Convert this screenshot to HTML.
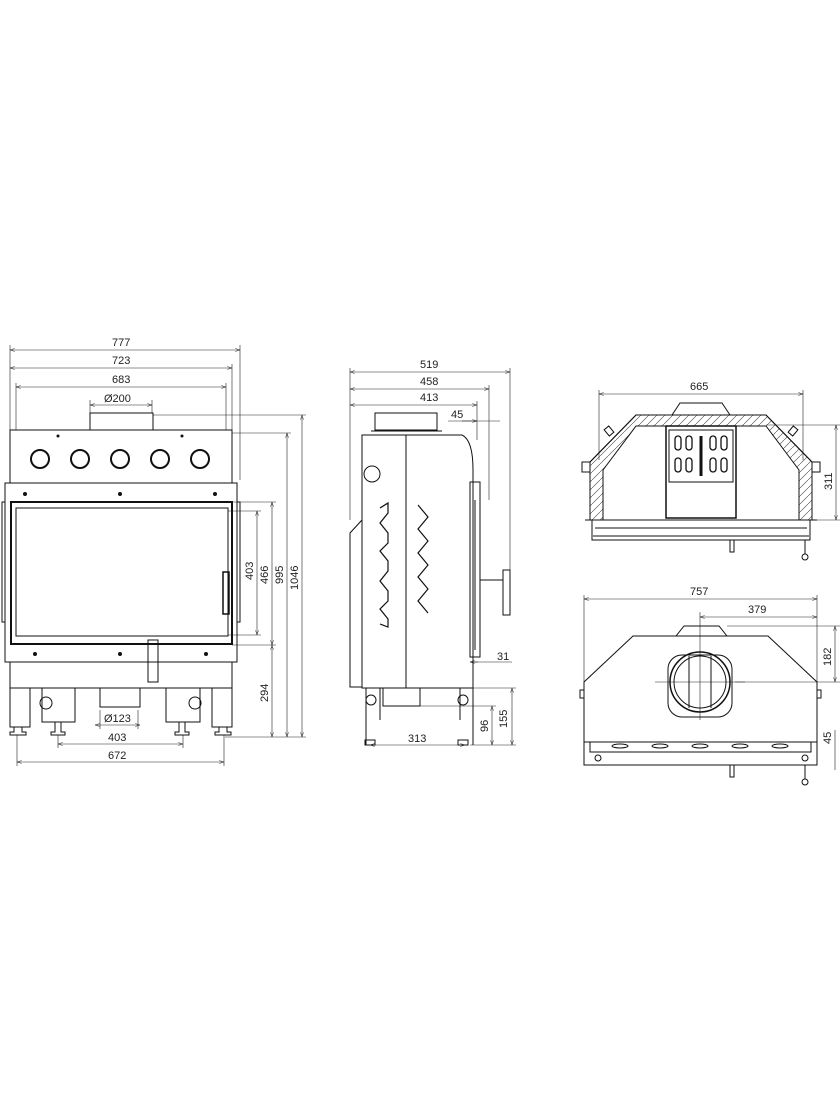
<!DOCTYPE html>
<html><head><meta charset="utf-8"><style>
html,body{margin:0;padding:0;background:#fff;}
svg{display:block;}
text{font-family:"Liberation Sans",sans-serif;font-size:11px;fill:#222;}
</style></head><body>
<svg width="840" height="1120" viewBox="0 0 840 1120" xmlns="http://www.w3.org/2000/svg">
<defs>
<marker id="a" viewBox="0 0 8 6" refX="8" refY="3" markerWidth="8" markerHeight="6" orient="auto-start-reverse"><path d="M0,0.5 L8,3 L0,5.5" fill="none" stroke="#222" stroke-width="0.8"/></marker>
<pattern id="h" width="8" height="8" patternUnits="userSpaceOnUse"><path d="M0,8 L8,0" stroke="#444" stroke-width="0.6"/></pattern>
</defs>
<g fill="none" stroke="#222" stroke-width="0.6">
<!-- FRONT VIEW dims -->
<line x1="10" y1="350" x2="240" y2="350" marker-start="url(#a)" marker-end="url(#a)"/>
<line x1="10" y1="368" x2="232" y2="368" marker-start="url(#a)" marker-end="url(#a)"/>
<line x1="16" y1="387" x2="226" y2="387" marker-start="url(#a)" marker-end="url(#a)"/>
<line x1="90" y1="405" x2="152" y2="405" marker-start="url(#a)" marker-end="url(#a)"/>
<line x1="10" y1="345" x2="10" y2="430"/><line x1="240" y1="345" x2="240" y2="480"/>
<line x1="232" y1="364" x2="232" y2="430"/><line x1="16" y1="383" x2="16" y2="430"/><line x1="226" y1="383" x2="226" y2="430"/>
<line x1="90" y1="400" x2="90" y2="413"/><line x1="152" y1="400" x2="152" y2="413"/>
<line x1="302" y1="415" x2="302" y2="737" marker-start="url(#a)" marker-end="url(#a)"/>
<line x1="287" y1="433" x2="287" y2="737" marker-start="url(#a)" marker-end="url(#a)"/>
<line x1="272" y1="502" x2="272" y2="645" marker-start="url(#a)" marker-end="url(#a)"/>
<line x1="257" y1="511" x2="257" y2="635" marker-start="url(#a)" marker-end="url(#a)"/>
<line x1="272" y1="645" x2="272" y2="737" marker-start="url(#a)" marker-end="url(#a)"/>
<line x1="153" y1="415" x2="306" y2="415"/><line x1="232" y1="433" x2="291" y2="433"/>
<line x1="232" y1="502" x2="276" y2="502"/><line x1="228" y1="511" x2="261" y2="511"/>
<line x1="228" y1="635" x2="261" y2="635"/><line x1="232" y1="645" x2="276" y2="645"/>
<line x1="225" y1="737" x2="306" y2="737"/>
<line x1="58" y1="744" x2="183" y2="744" marker-start="url(#a)" marker-end="url(#a)"/>
<line x1="17" y1="762" x2="224" y2="762" marker-start="url(#a)" marker-end="url(#a)"/>
<line x1="95" y1="725" x2="140" y2="725" marker-start="url(#a)" marker-end="url(#a)"/>
<line x1="58" y1="735" x2="58" y2="748"/><line x1="183" y1="735" x2="183" y2="748"/>
<line x1="17" y1="735" x2="17" y2="766"/><line x1="224" y1="735" x2="224" y2="766"/>
<line x1="100" y1="710" x2="100" y2="729"/><line x1="138" y1="710" x2="138" y2="729"/>
</g>
<g fill="none" stroke="#111" stroke-width="1">
<rect x="90" y="413" width="63" height="17"/><line x1="88" y1="430" x2="155" y2="430"/>
<rect x="10" y="430" width="222" height="53"/>
<circle cx="40" cy="459" r="9" stroke-width="2"/><circle cx="80" cy="459" r="9" stroke-width="2"/><circle cx="120" cy="459" r="9" stroke-width="2"/><circle cx="160" cy="459" r="9" stroke-width="2"/><circle cx="200" cy="459" r="9" stroke-width="2"/>
<rect x="5" y="483" width="232" height="179"/>
<rect x="11" y="502" width="221" height="142" stroke-width="2"/>
<rect x="16" y="508" width="212" height="128"/>
<rect x="223" y="572" width="6" height="42" stroke-width="1.5"/>
<rect x="2" y="502" width="3" height="120"/><rect x="237" y="502" width="3" height="120"/>
<rect x="10" y="662" width="222" height="26"/>
<rect x="148" y="640" width="10" height="42"/>
<path d="M10,688 V727 H30 V688 M30,688 H42 V722 H75 V688 M75,688 H100 V707 H140 V688 H166 V722 H200 V688 H212 V727 H232 V688"/>
<circle cx="46" cy="703" r="6"/><circle cx="195" cy="703" r="6"/>
<path d="M14,727 h8 v5 h4 v3 h-16 v-3 h4z M55,722 h6 v10 h4 v3 h-14 v-3 h4z M179,722 h6 v10 h4 v3 h-14 v-3 h4z M219,727 h8 v5 h4 v3 h-16 v-3 h4z"/>
</g>
<g fill="#111">
<circle cx="58" cy="436" r="1.5"/><circle cx="182" cy="436" r="1.5"/>
<circle cx="25" cy="494" r="2"/><circle cx="120" cy="494" r="2"/><circle cx="215" cy="494" r="2"/>
<circle cx="35" cy="654" r="2"/><circle cx="120" cy="654" r="2"/><circle cx="206" cy="654" r="2"/>
</g>
<text x="112" y="346">777</text><text x="112" y="364">723</text><text x="112" y="383">683</text><text x="104" y="402">Ø200</text>
<text x="104" y="722">Ø123</text><text x="108" y="741">403</text><text x="108" y="759">672</text>
<g><text transform="translate(253,580) rotate(-90)">403</text><text transform="translate(268,584) rotate(-90)">466</text><text transform="translate(283,584) rotate(-90)">995</text><text transform="translate(298,590) rotate(-90)">1046</text><text transform="translate(268,702) rotate(-90)">294</text></g>

<!-- SIDE VIEW -->
<g fill="none" stroke="#222" stroke-width="0.6">
<line x1="350" y1="372" x2="510" y2="372" marker-start="url(#a)" marker-end="url(#a)"/>
<line x1="350" y1="389" x2="489" y2="389" marker-start="url(#a)" marker-end="url(#a)"/>
<line x1="350" y1="405" x2="477" y2="405" marker-start="url(#a)" marker-end="url(#a)"/>
<line x1="448" y1="421" x2="500" y2="421"/><line x1="462" y1="421" x2="477" y2="421" marker-end="url(#a)"/>
<line x1="350" y1="368" x2="350" y2="520"/><line x1="510" y1="368" x2="510" y2="570"/>
<line x1="489" y1="385" x2="489" y2="500"/><line x1="477" y1="401" x2="477" y2="440"/>
<line x1="470" y1="662" x2="512" y2="662"/><line x1="478" y1="662" x2="470" y2="662" marker-end="url(#a)"/>
<line x1="370" y1="745" x2="465" y2="745" marker-start="url(#a)" marker-end="url(#a)"/>
<line x1="512" y1="688" x2="512" y2="745" marker-start="url(#a)" marker-end="url(#a)"/>
<line x1="492" y1="706" x2="492" y2="745" marker-start="url(#a)" marker-end="url(#a)"/>
<line x1="470" y1="688" x2="516" y2="688"/><line x1="420" y1="706" x2="496" y2="706"/><line x1="470" y1="745" x2="516" y2="745"/>
</g>
<g fill="none" stroke="#111" stroke-width="1">
<rect x="375" y="413" width="62" height="17"/><line x1="371" y1="431" x2="442" y2="431"/>
<path d="M362,435 H462 Q473,440 473,470 V688 H362 Z"/>
<line x1="406" y1="435" x2="406" y2="688"/>
<path d="M362,520 L350,533 V687 H362"/>
<rect x="470" y="482" width="10" height="175"/><line x1="475" y1="500" x2="475" y2="650"/>
<rect x="503" y="570" width="7" height="45"/><line x1="480" y1="580" x2="503" y2="580"/>
<circle cx="372" cy="474" r="8"/>
<path d="M380,508 l8,-5 v10 l-8,10 l8,10 v10 l-8,8 l8,10 v10 l-8,10 l8,10 v10 l-8,8 l8,10 v8 l-8,-3" stroke-width="1.2"/>
<path d="M418,505 l10,12 l-10,12 l10,12 l-10,12 l10,12 l-10,12 l10,12 l-10,12 l10,12" stroke-width="1.2"/>
<path d="M366,688 V745 M380,688 V720 M460,688 V720 M473,688 V745"/>
<rect x="383" y="688" width="37" height="18"/>
<circle cx="371" cy="700" r="5"/><circle cx="463" cy="700" r="5"/>
<path d="M365,740 h10 v5 h-10z M458,740 h10 v5 h-10z"/>
</g>
<text x="420" y="368">519</text><text x="420" y="385">458</text><text x="420" y="401">413</text><text x="451" y="418">45</text><text x="497" y="660">31</text><text x="408" y="742">313</text>
<text transform="translate(507,728) rotate(-90)">155</text><text transform="translate(488,732) rotate(-90)">96</text>

<!-- TOP RIGHT VIEW -->
<g fill="none" stroke="#222" stroke-width="0.6">
<line x1="599" y1="394" x2="803" y2="394" marker-start="url(#a)" marker-end="url(#a)"/>
<line x1="599" y1="390" x2="599" y2="460"/><line x1="803" y1="390" x2="803" y2="460"/>
<line x1="836" y1="425" x2="836" y2="520" marker-start="url(#a)" marker-end="url(#a)"/>
<line x1="766" y1="425" x2="840" y2="425"/><line x1="812" y1="520" x2="840" y2="520"/>
</g>
<g fill="none" stroke="#111" stroke-width="1">
<path d="M636,415 H766 L812,462 V520 H590 V462 Z"/>
<path d="M636,415 H766 L812,462 V520 H799 V470 L766,426 H636 L603,470 V520 H590 V462 Z" fill="url(#h)"/>
<path d="M672,415 L680,403 H722 L730,415"/>
<rect x="666" y="426" width="70" height="92" stroke-width="1.5"/>
<rect x="669" y="430" width="64" height="52"/>
<g stroke-width="1.3"><rect x="675" y="436" width="6" height="14" rx="3"/><rect x="686" y="436" width="6" height="14" rx="3"/><rect x="710" y="436" width="6" height="14" rx="3"/><rect x="721" y="436" width="6" height="14" rx="3"/><rect x="675" y="458" width="6" height="14" rx="3"/><rect x="686" y="458" width="6" height="14" rx="3"/><rect x="710" y="458" width="6" height="14" rx="3"/><rect x="721" y="458" width="6" height="14" rx="3"/><line x1="701" y1="436" x2="701" y2="476" stroke-width="3"/></g>
<path d="M585,520 H817 M592,520 V540 H810 V520 M595,528 H807 M593,536 H809"/>
<rect x="606" y="427" width="6" height="8" transform="rotate(-40 609 431)"/><rect x="790" y="427" width="6" height="8" transform="rotate(40 793 431)"/>
<rect x="582" y="462" width="8" height="10"/><rect x="812" y="462" width="8" height="10"/>
<rect x="730" y="540" width="4" height="12"/><circle cx="805" cy="557" r="3"/><line x1="805" y1="540" x2="805" y2="554"/>
</g>
<text x="690" y="390">665</text><text transform="translate(832,490) rotate(-90)">311</text>

<!-- BOTTOM RIGHT VIEW -->
<g fill="none" stroke="#222" stroke-width="0.6">
<line x1="584" y1="599" x2="817" y2="599" marker-start="url(#a)" marker-end="url(#a)"/>
<line x1="700" y1="617" x2="817" y2="617" marker-start="url(#a)" marker-end="url(#a)"/>
<line x1="584" y1="595" x2="584" y2="682"/><line x1="817" y1="595" x2="817" y2="682"/>
<line x1="835" y1="626" x2="835" y2="682" marker-start="url(#a)" marker-end="url(#a)"/>
<line x1="835" y1="730" x2="835" y2="770"/>
<line x1="727" y1="626" x2="840" y2="626"/><line x1="735" y1="682" x2="840" y2="682"/>
<line x1="700" y1="612" x2="700" y2="720"/><line x1="655" y1="682" x2="745" y2="682"/>
</g>
<g fill="none" stroke="#111" stroke-width="1">
<path d="M633,636 H768 L817,682 V742 H584 V682 Z"/>
<path d="M676,636 L684,626 H719 L727,636"/>
<rect x="668" y="655" width="64" height="62" rx="14"/>
<circle cx="700" cy="682" r="30" stroke-width="1.5"/><circle cx="700" cy="682" r="26"/>
<line x1="689" y1="656" x2="689" y2="708"/><line x1="711" y1="656" x2="711" y2="708"/>
<path d="M584,742 V765 H817 V742 M590,742 V752 H811 V742"/>
<ellipse cx="620" cy="746" rx="8" ry="2"/><ellipse cx="660" cy="746" rx="8" ry="2"/><ellipse cx="700" cy="746" rx="8" ry="2"/><ellipse cx="740" cy="746" rx="8" ry="2"/><ellipse cx="780" cy="746" rx="8" ry="2"/>
<circle cx="598" cy="758" r="3"/><circle cx="805" cy="758" r="3"/>
<rect x="730" y="765" width="4" height="12"/><circle cx="805" cy="782" r="3"/><line x1="805" y1="765" x2="805" y2="779"/>
<rect x="580" y="690" width="4" height="8"/><rect x="817" y="690" width="4" height="8"/>
</g>
<text x="690" y="595">757</text><text x="748" y="613">379</text>
<text transform="translate(831,666) rotate(-90)">182</text><text transform="translate(831,744) rotate(-90)">45</text>
</svg>
</body></html>
